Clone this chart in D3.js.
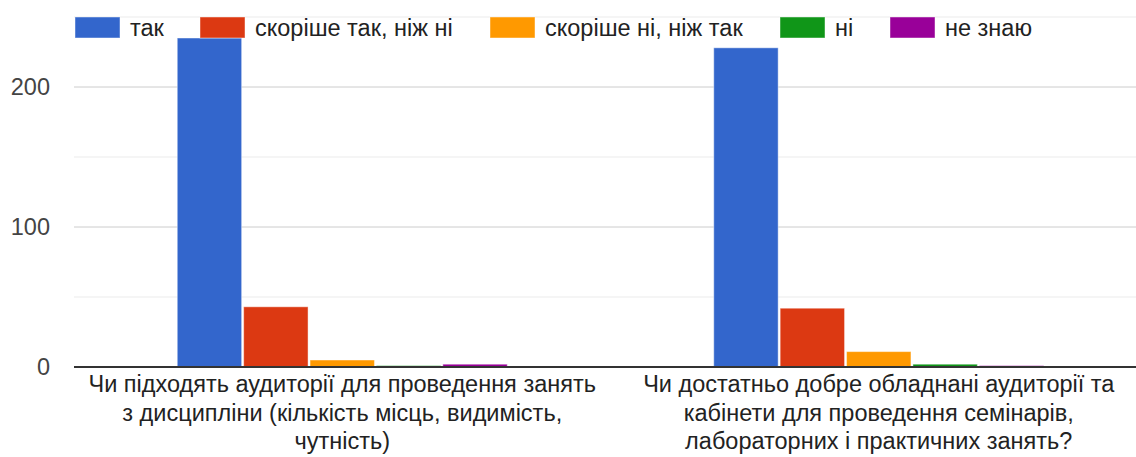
<!DOCTYPE html>
<html lang="uk">
<head>
    <meta charset="UTF-8">
    <title>Bar chart</title>
    <script src="https://d3js.org/d3.v7.min.js"></script>
    <style>
        body { margin: 0; background: #fff; }
        svg { width: 1136px; height: 457px; font-family: "Liberation Sans", Arial, sans-serif; }
    </style>
</head>
<body>
    <svg></svg>
    <script>
        // data
        var questions = ["q1", "q2"];
        var questionLines = [
            ["Чи підходять аудиторії для проведення занять", "з дисципліни (кількість місць, видимість,", "чутність)"],
            ["Чи достатньо добре обладнані аудиторії та", "кабінети для проведення семінарів,", "лабораторних і практичних занять?"]
        ];
        var answers = ["так", "скоріше так, ніж ні", "скоріше ні, ніж так", "ні", "не знаю"];
        var colors = ["#3366cc", "#dc3912", "#ff9900", "#109618", "#990099"];
        var q1Values = [235, 43, 5, 1, 2];
        var q2Values = [228, 42, 11, 2, 1];
        var yTicks = [0, 100, 200];
        var minorTicks = [50, 150, 250];

        var svg = d3.select("svg");

        var x0 = d3.scaleBand()
            .domain(questions)
            .range([74, 1147]);

        var x1 = d3.scaleBand()
            .domain(answers)
            .range([0, 330])
            .paddingInner(0.03);

        var y = d3.scaleLinear()
            .domain([0, 250])
            .range([367, 17]);

        var color = d3.scaleOrdinal(answers, colors);

        // gridlines
        svg.append("g")
            .selectAll("line")
            .data(minorTicks)
            .join("line")
            .attr("x1", 74).attr("x2", 1136)
            .attr("y1", d => y(d)).attr("y2", d => y(d))
            .style("stroke", "#ebebeb");

        svg.append("g")
            .selectAll("line")
            .data(yTicks.slice(1))
            .join("line")
            .attr("x1", 74).attr("x2", 1136)
            .attr("y1", d => y(d)).attr("y2", d => y(d))
            .style("stroke", "#cccccc");

        // y labels
        svg.append("g")
            .selectAll("text")
            .data(yTicks)
            .join("text")
            .attr("x", 50)
            .attr("y", d => y(d))
            .attr("dy", "0.35em")
            .attr("text-anchor", "end")
            .attr("font-size", 23.5)
            .style("fill", "#444")
            .text(d => d);

        // bars
        var table = questions.map((q, i) => ({ q: q, values: [q1Values, q2Values][i] }));

        var groups = svg.append("g")
            .selectAll("g")
            .data(table)
            .join("g")
            .attr("transform", d => "translate(" + (x0(d.q) + x0.bandwidth() / 2 - 165) + ",0)");

        groups.selectAll("rect")
            .data(d => d.values.map((v, i) => ({ key: answers[i], value: v })))
            .join("rect")
            .attr("x", d => x1(d.key))
            .attr("y", d => y(d.value))
            .attr("width", x1.bandwidth())
            .attr("height", d => y(0) - y(d.value))
            .style("fill", d => color(d.key))
            .style("stroke", "rgba(255,255,255,0.45)")
            .style("stroke-width", 1);

        // baseline
        svg.append("line")
            .attr("x1", 74).attr("x2", 1136)
            .attr("y1", y(0)).attr("y2", y(0))
            .style("stroke", "#333")
            .style("stroke-width", 2);

        // category labels
        var labels = svg.append("g")
            .selectAll("text")
            .data(questions)
            .join("text")
            .attr("text-anchor", "middle")
            .attr("font-size", 23.5)
            .style("fill", "#222");

        labels.selectAll("tspan")
            .data((d, i) => questionLines[i].map(t => ({ q: d, t: t })))
            .join("tspan")
            .attr("x", d => x0(d.q) + x0.bandwidth() / 2)
            .attr("y", (d, i) => 392 + i * 28.5)
            .text(d => d.t);

        // legend
        var legendX = [75, 200, 490, 780, 890];
        var legend = svg.append("g")
            .selectAll("g")
            .data(answers)
            .join("g")
            .attr("transform", (d, i) => "translate(" + legendX[i] + ",17)");

        legend.append("rect")
            .attr("width", 45)
            .attr("height", 21)
            .style("fill", d => color(d))
            .style("stroke", "rgba(255,255,255,0.45)");

        legend.append("text")
            .attr("x", 55)
            .attr("y", 19)
            .attr("font-size", 23.5)
            .style("fill", "#222")
            .text(d => d);
    </script>
</body>
</html>
